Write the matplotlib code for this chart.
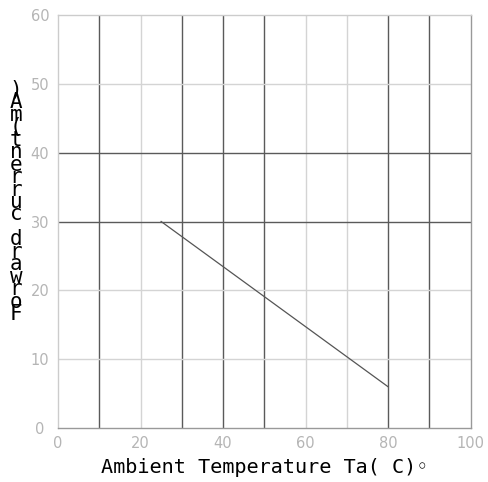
import matplotlib
matplotlib.use("Agg")
import matplotlib.pyplot as plt

# derating curve
temp = [25, 80]
current = [30, 6]

x_ticks = [0, 20, 40, 60, 80, 100]
y_ticks = [0, 10, 20, 30, 40, 50, 60]

# grid lines (scan has some dark, some faint)
v_dark = [10, 30, 40, 50, 80, 90]
v_light = [20, 60, 70]
h_dark = [30, 40]
h_light = [10, 20, 50]

fig = plt.figure(figsize=(4.88, 4.82), dpi=100)
ax = fig.add_axes([58 / 488, 54 / 482, 412.5 / 488, 413 / 482])

ax.set_xlim(0, 100)
ax.set_ylim(0, 60)

for v in v_light:
    ax.axvline(v, color='#d4d4d4', lw=1.0, zorder=1)
for v in v_dark:
    ax.axvline(v, color='#5a5a5a', lw=1.0, zorder=1)
for h in h_light:
    ax.axhline(h, color='#d4d4d4', lw=1.0, zorder=1)
for h in h_dark:
    ax.axhline(h, color='#5a5a5a', lw=1.0, zorder=1)

ax.plot(temp, current, color='#555555', lw=0.9, zorder=2)

for side in ['left', 'top']:
    ax.spines[side].set_color('#cccccc')
for side in ['right', 'bottom']:
    ax.spines[side].set_color('#999999')
for s in ax.spines.values():
    s.set_linewidth(1.0)

ax.set_xticks(x_ticks)
ax.set_yticks(y_ticks)
ax.tick_params(length=0, labelsize=10.5, labelcolor='#b5b5b5')
ax.tick_params(axis='x', pad=6)
ax.tick_params(axis='y', pad=13)
for lab in ax.get_yticklabels():
    lab.set_horizontalalignment('center')

ax.set_xlabel('Ambient Temperature Ta( C)◦', family='DejaVu Sans Mono',
              fontsize=14.5, color='black', labelpad=5)

ylab = '\n'.join(reversed('Forward current(mA)'))
fig.text(16 / 488, 1 - 202 / 482, ylab, family='DejaVu Sans Mono', fontsize=15,
         ha='center', va='center', linespacing=0.53, color='black')

fig.savefig('out.png', dpi=100)
